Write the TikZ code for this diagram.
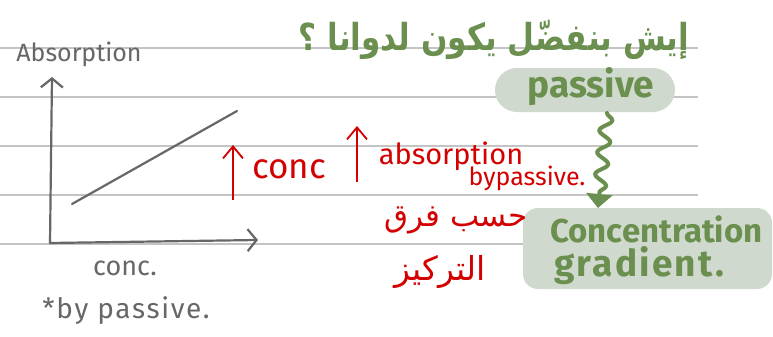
\documentclass[tikz,border=0pt]{standalone}
\usepackage{fontspec}
\setmainfont{Fira Sans}
\newfontfamily\arabicfont[Script=Arabic]{DejaVu Sans}
\TeXXeTstate=1
\usetikzlibrary{arrows.meta,decorations.pathmorphing}
\definecolor{ink}{HTML}{676767}
\definecolor{ruling}{HTML}{C4C4C4}
\definecolor{leaf}{HTML}{6A8F4E}
\definecolor{sage}{HTML}{D0D9CD}
\definecolor{pen}{HTML}{D40000}
\tikzset{
  ruleline/.style={ruling, line width=1.3pt},
  axis/.style={ink, line width=2.2pt, line cap=round, -{Straight Barb[length=9pt,width=22pt,line width=2.2pt]}},
  plotline/.style={ink, line width=2.2pt, line cap=round},
  graytext/.style={ink, inner sep=0pt},
  redtext/.style={pen, inner sep=0pt},
  redarrow/.style={pen, line width=1.8pt, -{Straight Barb[length=12pt,width=20pt,line width=1.8pt]}},
  greentext/.style={leaf, inner sep=0pt, font=\bfseries},
  sagebox/.style={fill=sage, draw=none},
}
\begin{document}
\begin{tikzpicture}[x=1pt,y=-1pt]
\useasboundingbox (0,0) rectangle (773,337);
\fill[white] (0,0) rectangle (773,337);

% notebook ruling
\foreach \y in {48,97,146,195,244}
  \draw[ruleline] (0,\y) -- (698,\y);

% highlighted boxes
\fill[sagebox, rounded corners=22pt] (495,68) rectangle (675,112);
\fill[sagebox, rounded corners=15pt] (523,208) rectangle (772,289);

% graph
\coordinate (origin) at (50,243);
\coordinate (ytip) at (52,77);
\coordinate (xtip) at (258,240);
\coordinate (lineA) at (72,204);
\coordinate (lineB) at (237,111);
\draw[axis] (origin) -- (ytip);
\draw[axis] (origin) -- (xtip);
\draw[plotline] (lineA) -- (lineB);
\node[graytext, font=\fontsize{25}{25}\selectfont] (ylabel) at (79,54) {Absorption};
\node[graytext, font=\fontsize{27}{27}\selectfont] (xlabel) at (125,268) {conc.};
\node[graytext, font=\addfontfeatures{LetterSpace=6}\fontsize{28}{28}\selectfont] (note) at (126,311) {*by passive.};

% red annotations
\coordinate (up1a) at (233,200);
\coordinate (up1b) at (233,145);
\coordinate (up2a) at (357,182);
\coordinate (up2b) at (357,126);
\draw[redarrow] (up1a) -- (up1b);
\draw[redarrow] (up2a) -- (up2b);
\node[redtext, font=\fontsize{35}{35}\selectfont] (conc) at (289,169) {conc};
\node[redtext, font=\fontsize{29}{29}\selectfont] (absn) at (451,156) {absorption};
\node[redtext, font=\fontsize{25}{25}\selectfont] (bypass) at (527,178) {bypassive.};
\node[redtext, font=\arabicfont\fontsize{31}{31}\selectfont] (ar1) at (456,220) {\beginR حسب فرق\endR};
\node[redtext, font=\arabicfont\fontsize{33}{33}\selectfont] (ar2) at (440,272) {\beginR التركيز\endR};

% green question and answer chain
\node[greentext, font=\arabicfont\bfseries\fontsize{31}{31}\selectfont] (question) at (494,40)
  {\scalebox{1}[1.2]{\beginR إيش بنفضّل يكون لدوانا ؟\endR}};
\node[greentext, font=\bfseries\fontsize{37}{37}\selectfont] (passive) at (591,87) {passive};
\node[greentext, font=\bfseries\fontsize{33}{33}\selectfont, anchor=west] (conctr) at (550,229) {Concentration};
\node[greentext, font=\bfseries\addfontfeatures{LetterSpace=6}\fontsize{37}{37}\selectfont, anchor=west] (grad) at (554,266) {gradient.};
\coordinate (snakeTop) at (607,113);
\coordinate (snakeEnd) at (598,208);
\draw[leaf, line width=4pt, line cap=round,
      decorate, decoration={snake, amplitude=6pt, segment length=22pt, post length=14pt},
      -{Triangle[length=14pt,width=26pt]}] (snakeTop) -- (snakeEnd);
\end{tikzpicture}
\end{document}
